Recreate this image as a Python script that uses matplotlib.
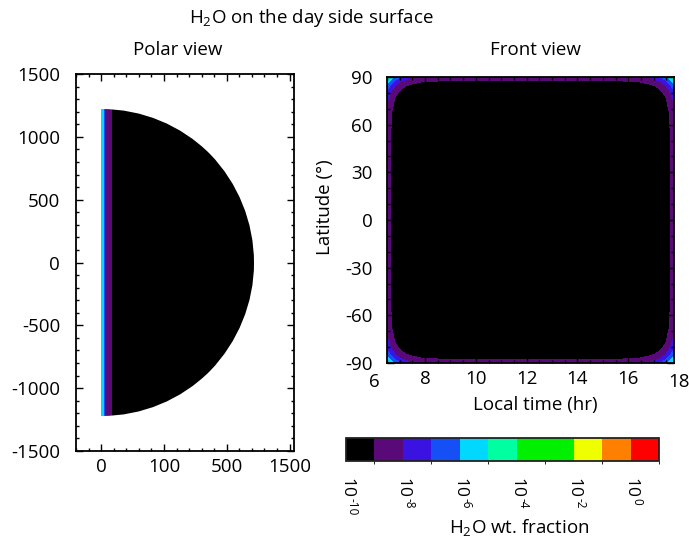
import numpy as np
import matplotlib
matplotlib.use("Agg")
import matplotlib.pyplot as plt
import matplotlib.transforms as mtransforms
from matplotlib.colors import ListedColormap, BoundaryNorm
from matplotlib.patches import Wedge
from matplotlib.ticker import MultipleLocator
import matplotlib.cm as cm

plt.rcParams['font.family'] = ['Open Sans', 'DejaVu Sans']
plt.rcParams['mathtext.fontset'] = 'custom'
plt.rcParams['mathtext.rm'] = 'Open Sans'
plt.rcParams['mathtext.it'] = 'Open Sans:italic'
plt.rcParams['mathtext.bf'] = 'Open Sans:bold'
plt.rcParams['axes.unicode_minus'] = False

# ---- colour scale (log10 of H2O wt. fraction) ----
level_bounds = [-10, -9, -8, -7, -6, -5, -4, -3, -2, -1, 0, 1]
level_colors = ['#000000', '#5a0a78', '#3a12e2', '#1450f5', '#00d8ff',
                '#00ffa0', '#00f000', '#00f000', '#f0ff00', '#ff8000', '#ff0000']
cbar_ticks = [-10, -8, -6, -4, -2, 0]
cbar_tick_base = '10'
cbar_tick_exponents = ['-10', '-8', '-6', '-4', '-2', '0']

# ---- polar view ----
polar_radius = 1220
polar_xticks = [0, 500, 1000, 1500]
polar_xticklabels = ['0', '100', '500', '1500']
polar_yticks = [1500, 1000, 500, 0, -500, -1000, -1500]
# radial profile of log10 fraction across the limb (distance from x = 0)
polar_profile_x = [0, 22, 32, 88, 95]
polar_profile_log = [-5.2, -5.6, -8.3, -8.9, -10]

# ---- front view ----
front_time_range = (6.5, 17.8)
front_xticks = [6, 8, 10, 12, 14, 16, 18]
front_yticks = [90, 60, 30, 0, -30, -60, -90]
front_shape_p = 10.0
front_r0 = 0.945
front_base = -9.2
front_b = 330.0

cmap = ListedColormap(level_colors)
norm = BoundaryNorm(level_bounds, cmap.N)

FS_TICK = 13.5
FS_TEXT = 13.5

fig = plt.figure(figsize=(6.89, 5.43), dpi=100)

# ================= Polar view =================
ax1 = fig.add_axes([76/689, 1-451/543, 218/689, 377/543])
xs = np.linspace(0, polar_radius, 1200)
ys = np.linspace(-polar_radius, polar_radius, 600)
X, Y = np.meshgrid(xs, ys)
L1 = np.interp(X, polar_profile_x, polar_profile_log)
L1 = np.clip(L1, -9.99, 0.99)
im1 = ax1.pcolormesh(X, Y, L1, cmap=cmap, norm=norm, shading='auto',
                     rasterized=True)
clip = Wedge((0, 0), polar_radius, -90, 90, transform=ax1.transData,
             facecolor='none', edgecolor='none')
ax1.add_patch(clip)
im1.set_clip_path(clip)
ax1.set_xlim(-200, 1535)
ax1.set_ylim(-1500, 1500)
ax1.set_xticks(polar_xticks)
ax1.set_xticklabels(polar_xticklabels)
ax1.set_yticks(polar_yticks)
ax1.xaxis.set_minor_locator(MultipleLocator(100))
ax1.yaxis.set_minor_locator(MultipleLocator(100))
fig.text(178/689, 1-50/543, 'Polar view', ha='center', va='center',
         fontsize=FS_TEXT)

# ================= Front view =================
ax2 = fig.add_axes([387/689, 1-363/543, 287/689, 286/543])
ts = np.linspace(front_time_range[0], front_time_range[1], 500)
lats = np.linspace(-90, 90, 500)
T, LAT = np.meshgrid(ts, lats)
tc = 0.5 * (front_time_range[0] + front_time_range[1])
hw = 0.5 * (front_time_range[1] - front_time_range[0])
U = np.abs((T - tc) / hw)
V = np.abs(LAT / 90.0)
R = (U**front_shape_p + V**front_shape_p) ** (1.0 / front_shape_p)
D = R - front_r0
L2 = np.where(D > 0, front_base + front_b * np.clip(D, 0, None)**2, -10)
L2 = np.clip(L2, -9.99, 0.99)
ax2.pcolormesh(T, LAT, L2, cmap=cmap, norm=norm, shading='auto',
               rasterized=True)
ax2.set_xlim(*front_time_range)
ax2.set_ylim(-90, 90)
ax2.set_xticks([t for t in front_xticks if front_time_range[0] <= t <= front_time_range[1]])
ax2.set_yticks(front_yticks)
ax2.xaxis.set_minor_locator(MultipleLocator(0.5))
ax2.yaxis.set_minor_locator(MultipleLocator(10))
for t in front_xticks:
    if not (front_time_range[0] <= t <= front_time_range[1]):
        ax2.text(t, -0.035, str(t), transform=ax2.get_xaxis_transform(),
                 ha='center', va='top', fontsize=FS_TICK, clip_on=False)
ax2.set_xlabel('Local time (hr)', fontsize=FS_TEXT, va='center')
ax2.xaxis.set_label_coords(0.516, -0.147)
ax2.set_ylabel('Latitude (°)', fontsize=FS_TEXT, va='center')
ax2.yaxis.set_label_coords(-0.216, 0.545)
fig.text(535/689, 1-50/543, 'Front view', ha='center', va='center',
         fontsize=FS_TEXT)

for ax in (ax1, ax2):
    ax.tick_params(which='both', direction='in', top=True, right=True,
                   labelsize=FS_TICK, width=1.0)
    ax.tick_params(which='major', length=5, pad=5)
    ax.tick_params(which='minor', length=2.5)
    for s in ax.spines.values():
        s.set_linewidth(1.3)
ax1.tick_params(axis='y', which='major', pad=11.5)
ax2.tick_params(axis='y', which='major', pad=10.5)

# ================= Colour bar =================
cax = fig.add_axes([346/689, 1-461/543, 313/689, 23/543])
sm = cm.ScalarMappable(norm=norm, cmap=cmap)
cb = fig.colorbar(sm, cax=cax, orientation='horizontal',
                  boundaries=level_bounds, spacing='proportional')
cb.set_ticks(cbar_ticks)
cax.set_xticklabels([])
cax.tick_params(length=0)
cb.outline.set_linewidth(1.3)
cb.outline.set_edgecolor('#222222')
blend = mtransforms.blended_transform_factory(cax.transData, cax.transAxes)
for t, e in zip(cbar_ticks, cbar_tick_exponents):
    base = cax.text(t, 0, cbar_tick_base, transform=blend, rotation=-90,
                    rotation_mode='default', ha='center', va='top',
                    fontsize=12.5, clip_on=False)
    base.set_transform(mtransforms.offset_copy(blend, fig=fig, x=0, y=-17,
                                               units='dots'))
    ex = cax.text(t, 0, e, transform=mtransforms.offset_copy(
                      blend, fig=fig, x=6, y=-37, units='dots'),
                  rotation=-90, ha='center', va='top', fontsize=8.5,
                  clip_on=False)
fig.text(519/689, 1-527/543, r'H$_2$O wt. fraction', ha='center',
         va='center', fontsize=FS_TEXT)

fig.text(311/689, 1-18/543, r'H$_2$O on the day side surface', ha='center',
         va='center', fontsize=FS_TEXT)

fig.savefig('out.png', dpi=100)
